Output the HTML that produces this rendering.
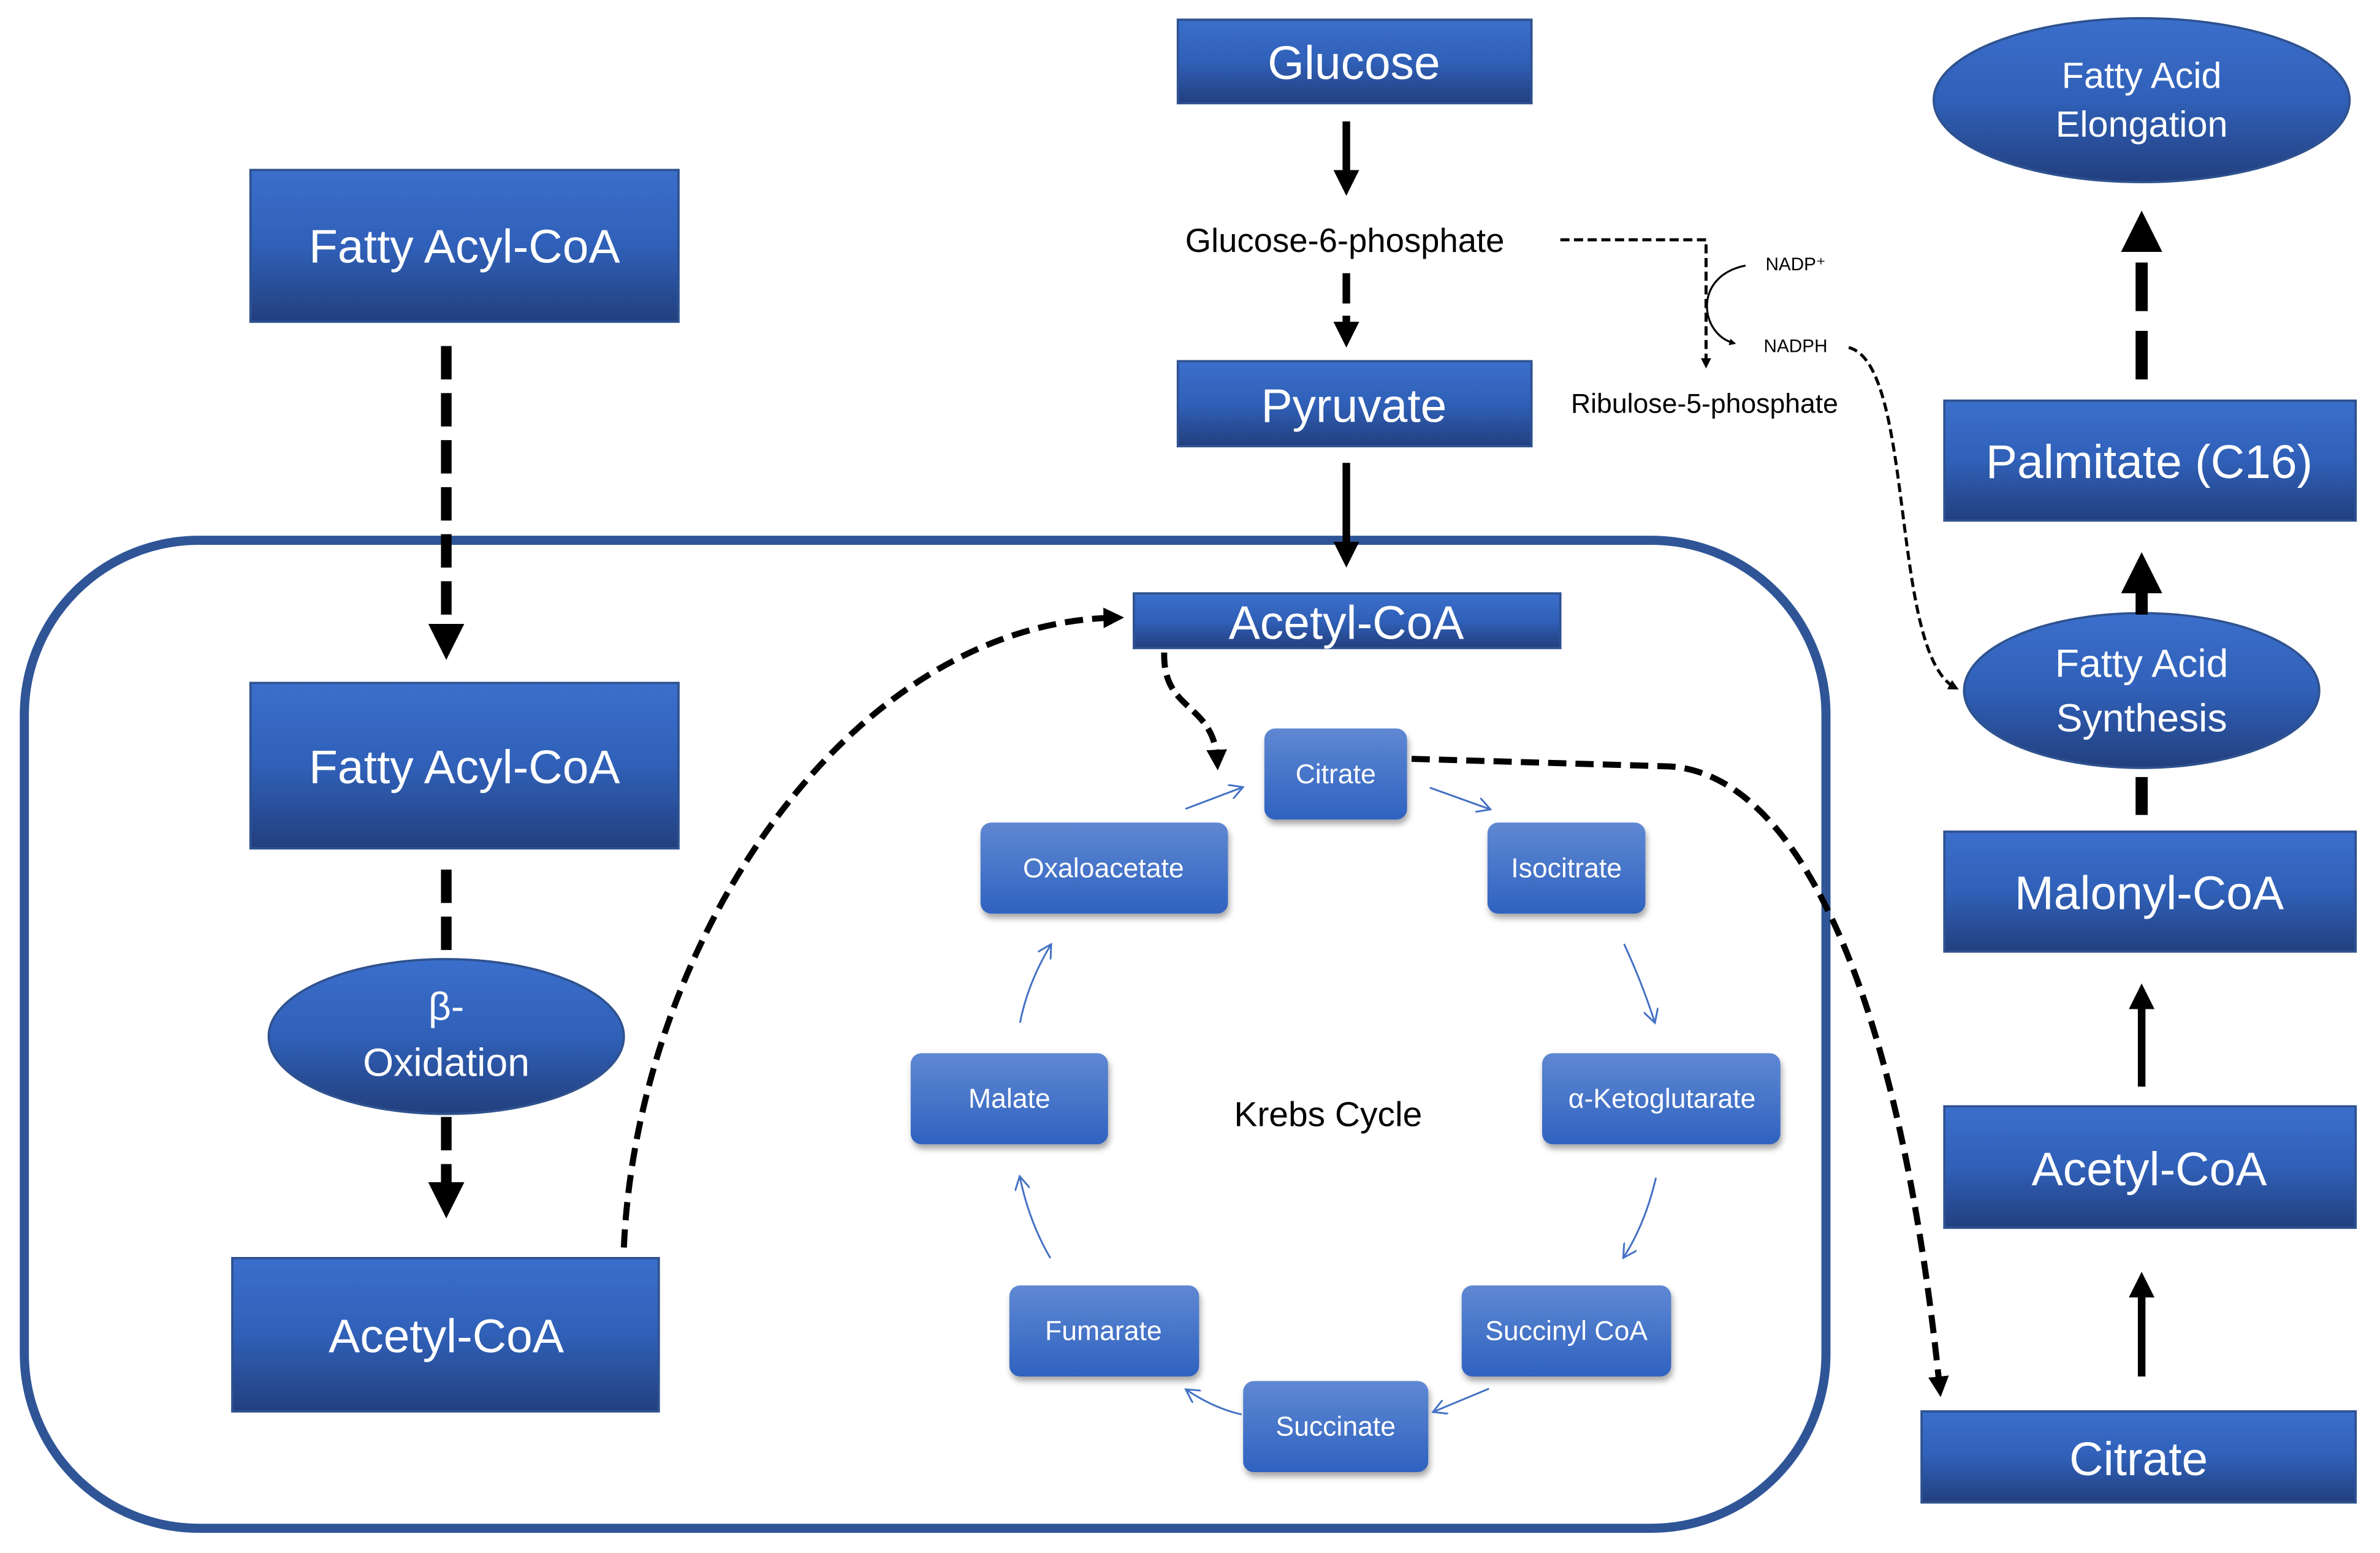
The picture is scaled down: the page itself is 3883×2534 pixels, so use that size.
<!DOCTYPE html>
<html><head><meta charset="utf-8"><style>
html,body{margin:0;padding:0;background:#fff}
svg{display:block}
text{font-family:"Liberation Sans",sans-serif}
</style></head><body>
<svg width="3883" height="2534" viewBox="0 0 1568 1023.3" xmlns="http://www.w3.org/2000/svg">
<defs>
<linearGradient id="g" x1="0" y1="0" x2="0" y2="1"><stop offset="0" stop-color="#3b6fcc"/><stop offset="0.5" stop-color="#3060b8"/><stop offset="1" stop-color="#223f7e"/></linearGradient>
<linearGradient id="k" x1="0" y1="0" x2="0" y2="1"><stop offset="0" stop-color="#5f88d2"/><stop offset="1" stop-color="#2f62c0"/></linearGradient>
<marker id="ah" markerWidth="4" markerHeight="4" refX="2" refY="2" orient="auto" markerUnits="strokeWidth"><path d="M0,0.3 L3.4,2 L0,3.7 z" fill="#000"/></marker>
<marker id="ab" markerWidth="10" markerHeight="10" refX="8" refY="5" orient="auto" markerUnits="userSpaceOnUse"><path d="M0,0 L9,5 L0,10" fill="none" stroke="#4472c4" stroke-width="1.2"/></marker>
<filter id="sh" x="-20%" y="-20%" width="140%" height="150%"><feDropShadow dx="1" dy="3" stdDeviation="2" flood-color="#000" flood-opacity="0.35"/></filter>
</defs>

<rect x="16" y="356" width="1187" height="651" rx="115" fill="none" stroke="#2f5597" stroke-width="6"/>

<g stroke="#2f528f" stroke-width="1.5" fill="url(#g)">
<rect x="776" y="13" width="233" height="55"/>
<rect x="165" y="112" width="282" height="100"/>
<rect x="165" y="450" width="282" height="109"/>
<rect x="153" y="829" width="281" height="101"/>
<rect x="776" y="238" width="233" height="56"/>
<rect x="747" y="391" width="281" height="36"/>
<rect x="1281" y="264" width="271" height="79"/>
<rect x="1281" y="548" width="271" height="79"/>
<rect x="1281" y="729" width="271" height="80"/>
<rect x="1266" y="930" width="286" height="60"/>
<ellipse cx="294" cy="683" rx="117" ry="51"/>
<ellipse cx="1411" cy="66" rx="137" ry="54"/>
<ellipse cx="1411" cy="455" rx="117" ry="51"/>
</g>

<g fill="#fff" text-anchor="middle" font-size="31">
<text x="892" y="52">Glucose</text>
<text x="306" y="173">Fatty Acyl-CoA</text>
<text x="306" y="516">Fatty Acyl-CoA</text>
<text x="294" y="891">Acetyl-CoA</text>
<text x="892" y="278">Pyruvate</text>
<text x="887" y="421">Acetyl-CoA</text>
<text x="1416" y="315">Palmitate (C16)</text>
<text x="1416" y="599">Malonyl-CoA</text>
<text x="1416" y="781">Acetyl-CoA</text>
<text x="1409" y="972">Citrate</text>
<text x="294" y="672" font-size="26">β-</text>
<text x="294" y="709" font-size="26">Oxidation</text>
<text x="1411" y="58" font-size="24">Fatty Acid</text>
<text x="1411" y="90" font-size="24">Elongation</text>
<text x="1411" y="446" font-size="26">Fatty Acid</text>
<text x="1411" y="482" font-size="26">Synthesis</text>
</g>

<g filter="url(#sh)" fill="url(#k)">
<rect x="833" y="480" width="94" height="60" rx="7"/>
<rect x="646" y="542" width="163" height="60" rx="7"/>
<rect x="980" y="542" width="104" height="60" rx="7"/>
<rect x="600" y="694" width="130" height="60" rx="7"/>
<rect x="1016" y="694" width="157" height="60" rx="7"/>
<rect x="665" y="847" width="125" height="60" rx="7"/>
<rect x="963" y="847" width="138" height="60" rx="7"/>
<rect x="819" y="910" width="122" height="60" rx="7"/>
</g>
<g fill="#fff" text-anchor="middle" font-size="18">
<text x="880" y="516">Citrate</text>
<text x="727" y="578">Oxaloacetate</text>
<text x="1032" y="578">Isocitrate</text>
<text x="665" y="730">Malate</text>
<text x="1095" y="730">α-Ketoglutarate</text>
<text x="727" y="883">Fumarate</text>
<text x="1032" y="883">Succinyl CoA</text>
<text x="880" y="946">Succinate</text>
</g>
<text x="875" y="742" font-size="23" text-anchor="middle">Krebs Cycle</text>

<g font-size="22" text-anchor="middle" fill="#000">
<text x="886" y="166">Glucose-6-phosphate</text>
<text x="1123" y="272" font-size="18">Ribulose-5-phosphate</text>
<text x="1183" y="178" font-size="12">NADP⁺</text>
<text x="1183" y="232" font-size="12">NADPH</text>
</g>

<!-- krebs arrows -->
<g stroke="#4472c4" stroke-width="1.2" fill="none" marker-end="url(#ab)">
<path d="M781,533 L818,519"/>
<path d="M942,519 L981,533"/>
<path d="M1070,622 Q1082,648 1090,673"/>
<path d="M1091,776 Q1084,806 1070,828"/>
<path d="M981,915 L945,930"/>
<path d="M818,932 Q800,928 782,916"/>
<path d="M692,829 Q678,805 672,776"/>
<path d="M672,674 Q677,648 692,623"/>
</g>

<!-- black arrows -->
<g stroke="#000" fill="none">
<path d="M887,80 L887,122" stroke-width="5" marker-end="url(#ah)"/>
<path d="M887,180 L887,222" stroke-width="5" stroke-dasharray="20,8" marker-end="url(#ah)"/>
<path d="M887,305 L887,367" stroke-width="5" marker-end="url(#ah)"/>
<path d="M294,228 L294,425" stroke-width="7" stroke-dasharray="22,9" marker-end="url(#ah)"/>
<path d="M294,573 L294,630" stroke-width="7" stroke-dasharray="22,9"/>
<path d="M294,736 L294,793" stroke-width="7" stroke-dasharray="22,9" marker-end="url(#ah)"/>
<path d="M411,822 C420,620 560,410 735,407" stroke-width="4" stroke-dasharray="12,6" marker-end="url(#ah)"/>
<path d="M767,430 C766,470 800,462 802,502" stroke-width="4" stroke-dasharray="10,5" marker-end="url(#ah)"/>
<path d="M930,500 L1100,505 C1180,510 1250,640 1278,915" stroke-width="4" stroke-dasharray="12,6" marker-end="url(#ah)"/>
<path d="M1028,158 L1124,158 L1124,240" stroke-width="2" stroke-dasharray="6,3" marker-end="url(#ah)"/>
<path d="M1150,175 C1115,182 1120,220 1142,226" stroke-width="1.3" marker-end="url(#ah)"/>
<path d="M1218,229 C1262,240 1245,430 1288,453" stroke-width="2" stroke-dasharray="6,3" marker-end="url(#ah)"/>
<path d="M1411,250 L1411,150" stroke-width="8" stroke-dasharray="32,13" marker-end="url(#ah)"/>
<path d="M1411,405 L1411,375" stroke-width="8" marker-end="url(#ah)"/>
<path d="M1411,512 L1411,537" stroke-width="8"/>
<path d="M1411,716 L1411,655" stroke-width="5" marker-end="url(#ah)"/>
<path d="M1411,907 L1411,845" stroke-width="5" marker-end="url(#ah)"/>
</g>
</svg>
</body></html>
